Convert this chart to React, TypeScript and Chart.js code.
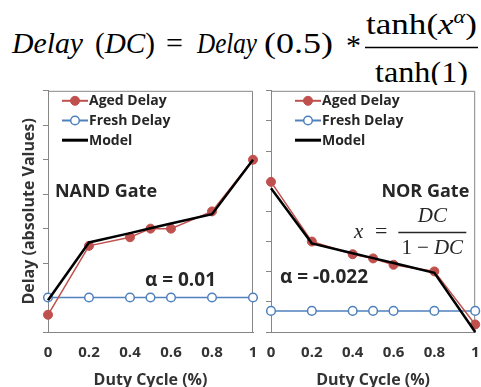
import React, { useEffect, useRef } from 'react';
import { Chart, registerables } from 'chart.js';

Chart.register(...registerables);

// ---------- data ----------
const dutyCycle = [0, 0.2, 0.4, 0.5, 0.6, 0.8, 1];
const xTickValues = [0, 0.2, 0.4, 0.6, 0.8, 1];
const xTickLabels = ['0', '0.2', '0.4', '0.6', '0.8', '1'];
const seriesLabels = ['Aged Delay', 'Fresh Delay', 'Model'];

const nandAged = [0.5, 2.5, 2.75, 3.0, 3.0, 3.5, 5.0];
const nandFresh = [1, 1, 1, 1, 1, 1, 1];
const nandModel = [0.92, 2.6, 2.87, 3.01, 3.15, 3.42, 5.0];

const norAged = [4.98, 3.0, 2.58, 2.44, 2.23, 2.01, 0.25];
const norFresh = [0.7, 0.7, 0.7, 0.7, 0.7, 0.7, 0.7];
const norModel = [4.77, 2.94, 2.61, 2.45, 2.29, 1.96, 0.0];

const nandNotes = ['NAND Gate', 'α = 0.01'];
const norNotes = ['NOR Gate', 'α = -0.022'];

// ---------- styles ----------
const AXIS = '#868686';
const TEXT = '#262626';
const RED = '#C0504D';
const BLUE = '#4F81BD';
const SANS = '"Open Sans", sans-serif';
const SERIF = '"Liberation Serif", serif';

type Note = { text: string; x: number; y: number; align: CanvasTextAlign; font: string };
type Frac = { x: number; y: number };

function toPts(vals: number[]) {
  return vals.map((v, i) => ({ x: dutyCycle[i], y: v }));
}

function makeDatasets(aged: number[], fresh: number[], model: number[]) {
  return [
    {
      label: seriesLabels[0], data: toPts(aged), borderColor: RED, backgroundColor: RED,
      borderWidth: 1.5, pointRadius: 4.5, pointBackgroundColor: RED, pointBorderColor: RED,
      pointBorderWidth: 1, order: 1, clip: false as any, tension: 0,
    },
    {
      label: seriesLabels[1], data: toPts(fresh), borderColor: BLUE, backgroundColor: '#fff',
      borderWidth: 1.5, pointRadius: 4.3, pointBackgroundColor: '#fff', pointBorderColor: BLUE,
      pointBorderWidth: 1.5, order: 2, clip: false as any, tension: 0,
    },
    {
      label: seriesLabels[2], data: toPts(model), borderColor: '#000', backgroundColor: '#000',
      borderWidth: 2.5, pointRadius: 0, order: 0, clip: false as any, tension: 0,
    },
  ];
}

function overlayPlugin(legendDx: number, notes: Note[], frac: Frac | null) {
  return {
    id: 'overlay',
    beforeDatasetsDraw(chart: any) {
      const { ctx, chartArea: a } = chart;
      ctx.save();
      ctx.strokeStyle = AXIS;
      ctx.lineWidth = 1;
      ctx.beginPath();
      ctx.moveTo(a.left, a.top + 0.5);
      ctx.lineTo(a.right - 0.5, a.top + 0.5);
      ctx.lineTo(a.right - 0.5, a.bottom);
      ctx.stroke();
      ctx.restore();
    },
    afterDatasetsDraw(chart: any) {
      const { ctx, chartArea: a } = chart;
      const sx = chart.scales.x;
      const sy = chart.scales.y;
      ctx.save();
      // legend
      chart.data.datasets.forEach((ds: any, i: number) => {
        const y = a.top + 10 + i * 19.7;
        const x0 = a.left + legendDx;
        ctx.strokeStyle = ds.borderColor;
        ctx.lineWidth = ds.borderWidth + 0.5;
        ctx.beginPath();
        ctx.moveTo(x0, y);
        ctx.lineTo(x0 + 26, y);
        ctx.stroke();
        if (ds.pointRadius > 0) {
          ctx.beginPath();
          ctx.arc(x0 + 13, y, ds.pointRadius, 0, Math.PI * 2);
          ctx.fillStyle = ds.pointBackgroundColor;
          ctx.fill();
          ctx.lineWidth = ds.pointBorderWidth;
          ctx.strokeStyle = ds.pointBorderColor;
          ctx.stroke();
        }
        ctx.fillStyle = TEXT;
        ctx.font = `bold 14px ${SANS}`;
        ctx.textAlign = 'left';
        ctx.textBaseline = 'middle';
        ctx.fillText(ds.label, x0 + 27, y + 0.5);
      });
      // notes
      notes.forEach((n) => {
        ctx.fillStyle = TEXT;
        ctx.font = n.font;
        ctx.textAlign = n.align;
        ctx.textBaseline = 'alphabetic';
        ctx.fillText(n.text, sx.getPixelForValue(n.x), sy.getPixelForValue(n.y));
      });
      // fraction x = DC / (1 - DC)
      if (frac) {
        const cx = sx.getPixelForValue(frac.x);
        const cy = Math.round(sy.getPixelForValue(frac.y)) + 0.5;
        ctx.fillStyle = TEXT;
        ctx.strokeStyle = TEXT;
        ctx.lineWidth = 1.6;
        ctx.beginPath();
        ctx.moveTo(cx - 34, cy);
        ctx.lineTo(cx + 34, cy);
        ctx.stroke();
        ctx.textBaseline = 'alphabetic';
        const it = `italic 21px ${SERIF}`;
        const rm = `21px ${SERIF}`;
        // numerator
        ctx.font = it;
        ctx.textAlign = 'center';
        ctx.fillText('DC', cx, cy - 11);
        // denominator: "1 − DC"
        ctx.textAlign = 'left';
        ctx.font = rm;
        const w1 = ctx.measureText('1').width;
        const wm = ctx.measureText('−').width;
        ctx.font = it;
        const wd = ctx.measureText('DC').width;
        const gap = 5;
        const total = w1 + gap + wm + gap + wd;
        let px = cx - total / 2;
        ctx.font = rm;
        ctx.fillText('1', px, cy + 21);
        px += w1 + gap;
        ctx.fillText('−', px, cy + 21);
        px += wm + gap;
        ctx.font = it;
        ctx.fillText('DC', px, cy + 21);
        // x =
        ctx.font = `22px ${SERIF}`;
        ctx.textAlign = 'right';
        ctx.fillText('=', cx - 45, cy + 5);
        ctx.font = it;
        ctx.fillText('x', cx - 69, cy + 5);
      }
      ctx.restore();
    },
  };
}

function buildChart(
  canvas: HTMLCanvasElement,
  datasets: any[],
  yMax: number,
  yAxisWidth: number,
  showYTitle: boolean,
  padRight: number,
  plugin: any
) {
  const H = canvas.height;
  return new Chart(canvas, {
    type: 'line',
    data: { datasets },
    options: {
      animation: false,
      responsive: false,
      devicePixelRatio: 1,
      layout: { padding: { top: 3, right: padRight, left: 0, bottom: 0 } },
      plugins: { legend: { display: false }, tooltip: { enabled: false } },
      scales: {
        x: {
          type: 'linear',
          min: 0,
          max: 1,
          afterBuildTicks: (s: any) => { s.ticks = xTickValues.map((v) => ({ value: v })); },
          afterFit: (s: any) => { s.height = H - 247; s.paddingLeft = 0; s.paddingRight = 0; },
          ticks: {
            callback: (_v: any, i: number) => xTickLabels[i],
            font: { family: SANS, size: 15, weight: 'bold' },
            color: '#333',
            padding: 12,
            maxRotation: 0,
          },
          grid: { display: true, drawOnChartArea: false, drawTicks: false },
          border: { display: true, color: AXIS, width: 1 },
          title: {
            display: true,
            text: 'Duty Cycle (%)',
            font: { family: SANS, size: 16, weight: 'bold' },
            color: '#333',
            padding: { top: 0, bottom: 5 },
          },
        },
        y: {
          type: 'linear',
          min: 0,
          max: yMax,
          afterFit: (s: any) => { s.width = yAxisWidth; s.paddingTop = 0; s.paddingBottom = 0; },
          ticks: { display: false, stepSize: 1 },
          grid: { display: true, drawOnChartArea: false, drawTicks: true, tickLength: 5, color: AXIS },
          border: { display: true, color: AXIS, width: 1 },
          title: {
            display: showYTitle,
            text: 'Delay (absolute Values)',
            font: { family: SANS, size: 16, weight: 'bold' },
            color: '#333',
            padding: { top: 20, bottom: 0 },
          },
        },
      },
    } as any,
    plugins: [plugin],
  });
}

export default function App() {
  const leftRef = useRef<HTMLCanvasElement>(null);
  const rightRef = useRef<HTMLCanvasElement>(null);

  useEffect(() => {
    const bold = (s: number) => `bold ${s}px ${SANS}`;
    const left = buildChart(
      leftRef.current!,
      makeDatasets(nandAged, nandFresh, nandModel),
      7, 48, true, 9,
      overlayPlugin(14, [
        { text: nandNotes[0], x: 0.034, y: 3.91, align: 'left', font: bold(18) },
        { text: nandNotes[1], x: 0.473, y: 1.34, align: 'left', font: bold(19) },
      ], null)
    );
    const right = buildChart(
      rightRef.current!,
      makeDatasets(norAged, norFresh, norModel),
      8, 9, false, 5,
      overlayPlugin(24, [
        { text: norNotes[0], x: 0.971, y: 4.49, align: 'right', font: bold(18) },
        { text: norNotes[1], x: 0.044, y: 1.61, align: 'left', font: bold(19) },
      ], { x: 0.79, y: 3.31 })
    );
    return () => { left.destroy(); right.destroy(); };
  }, []);

  const serif = { fontFamily: '"Liberation Serif", serif', fontSize: 30, fill: '#000', whiteSpace: 'pre' } as any;

  return (
    <div style={{ position: 'fixed', left: 0, top: 0, width: 481, height: 387, overflow: 'hidden', background: '#fff' }}>
      <svg width={481} height={85} style={{ position: 'absolute', left: 0, top: 0 }}>
        <text x={12} y={53} style={serif} fontStyle="italic" textLength={71} lengthAdjust="spacingAndGlyphs">Delay</text>
        <text x={95} y={53} style={serif} textLength={60} lengthAdjust="spacingAndGlyphs">
          (<tspan fontStyle="italic">DC</tspan>)
        </text>
        <text x={166} y={53} style={serif}>=</text>
        <text x={197} y={53} style={serif} fontStyle="italic" textLength={60} lengthAdjust="spacingAndGlyphs">Delay</text>
        <text x={264} y={53} style={serif} textLength={69} lengthAdjust="spacingAndGlyphs">(0.5)</text>
        <text x={346} y={55} style={serif}>*</text>
        <text x={366} y={34} style={serif} textLength={111} lengthAdjust="spacingAndGlyphs">
          tanh(<tspan fontStyle="italic">x</tspan><tspan fontStyle="italic" fontSize={19} dy={-11}>α</tspan><tspan dy={11}>)</tspan>
        </text>
        <line x1={365} y1={47.5} x2={478} y2={47.5} stroke="#000" strokeWidth={1.6} />
        <text x={375} y={82} style={serif} textLength={93} lengthAdjust="spacingAndGlyphs">tanh(1)</text>
      </svg>
      <canvas ref={leftRef} width={262} height={310} style={{ position: 'absolute', left: 0, top: 85, display: 'block' }} />
      <canvas ref={rightRef} width={219} height={310} style={{ position: 'absolute', left: 262, top: 85, display: 'block' }} />
    </div>
  );
}
